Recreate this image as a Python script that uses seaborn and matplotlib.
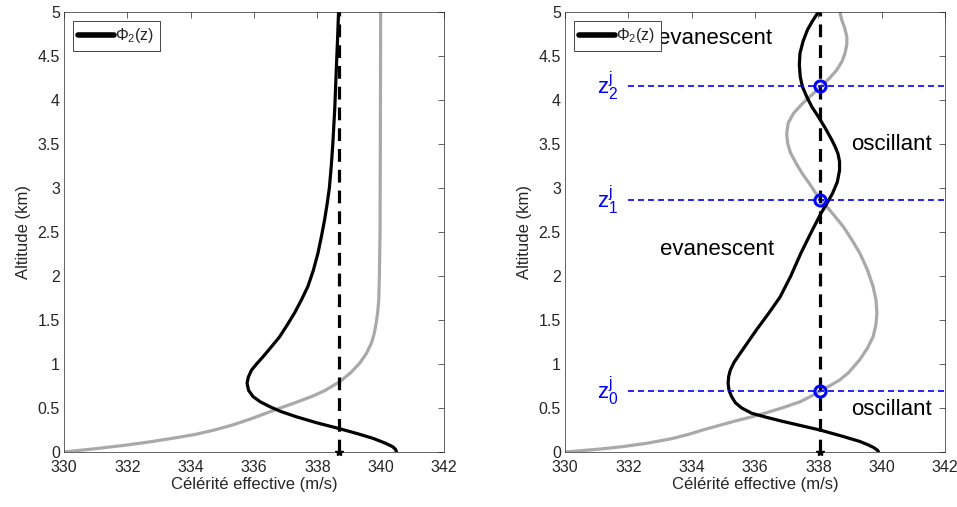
import numpy as np
import pandas as pd
import matplotlib
matplotlib.use("Agg")
import matplotlib.pyplot as plt
import seaborn as sns

# ---------------- data ----------------
# Left panel: effective sound speed profile (grey) and mode Phi_2 (black)
left_c_z = [0, 0.04, 0.08, 0.12, 0.16, 0.20, 0.25, 0.31, 0.37, 0.43, 0.49, 0.56, 0.63, 0.70, 0.80,
            0.90, 1.01, 1.12, 1.24, 1.35, 1.47, 1.60, 1.73, 2.0, 2.5, 3.5, 5.0]
left_c_v = [330.0, 331.05, 332.0, 332.8, 333.5, 334.15, 334.75, 335.35, 335.85, 336.3, 336.75,
            337.3, 337.82, 338.25, 338.71, 339.05, 339.34, 339.55, 339.71, 339.8, 339.86, 339.91,
            339.94, 339.96, 339.98, 339.99, 340.0]
left_phi_z = [0, 0.03, 0.06, 0.10, 0.155, 0.21, 0.27, 0.33, 0.40, 0.46, 0.515, 0.57, 0.63, 0.70,
              0.78, 0.85, 0.93, 1.0, 1.08, 1.2, 1.31, 1.45, 1.58, 1.73, 1.88, 2.06, 2.26, 2.45,
              2.64, 2.82, 3.0, 3.25, 3.51, 3.9, 4.36, 4.7, 5.0]
left_phi_v = [340.5, 340.47, 340.38, 340.15, 339.76, 339.25, 338.65, 338.0, 337.34, 336.85, 336.50,
              336.2, 335.97, 335.83, 335.78, 335.82, 335.92, 336.08, 336.28, 336.56, 336.81, 337.06,
              337.28, 337.5, 337.70, 337.87, 338.02, 338.13, 338.23, 338.31, 338.38, 338.44, 338.49,
              338.55, 338.60, 338.64, 338.67]
left_phase = 338.67

# Right panel
right_c_z = [0, 0.03, 0.06, 0.10, 0.15, 0.20, 0.25, 0.30, 0.35, 0.40, 0.44, 0.50, 0.57, 0.63, 0.69,
             0.76, 0.82, 0.90, 0.97, 1.05, 1.18, 1.31, 1.45, 1.58, 1.73, 1.88, 2.07, 2.26, 2.41,
             2.56, 2.71, 2.86, 2.95, 3.05, 3.16, 3.28, 3.40, 3.51, 3.62, 3.74, 3.85, 3.96, 4.06,
             4.16, 4.25, 4.34, 4.44, 4.53, 4.63, 4.72, 4.82, 4.91, 5.0]
right_c_v = [330.0, 331.0, 331.8, 332.6, 333.35, 333.9, 334.35, 334.85, 335.35, 335.9, 336.3,
             336.85, 337.42, 337.75, 338.05, 338.4, 338.68, 338.95, 339.12, 339.31, 339.55, 339.73,
             339.82, 339.85, 339.82, 339.73, 339.55, 339.31, 339.06, 338.79, 338.45, 338.1, 337.9,
             337.72, 337.5, 337.3, 337.12, 337.03, 337.0, 337.05, 337.22, 337.5, 337.8, 338.1,
             338.36, 338.58, 338.75, 338.84, 338.9, 338.9, 338.83, 338.74, 338.68]
right_phi_z = [0, 0.02, 0.05, 0.08, 0.12, 0.18, 0.25, 0.30, 0.35, 0.40, 0.44, 0.50, 0.56, 0.63,
               0.70, 0.78, 0.86, 0.93, 1.02, 1.12, 1.25, 1.39, 1.57, 1.76, 2.0, 2.26, 2.5, 2.71,
               2.83, 2.94, 3.07, 3.2, 3.3, 3.39, 3.47, 3.55, 3.68, 3.81, 3.92, 4.04, 4.15, 4.26,
               4.4, 4.53, 4.67, 4.8, 4.9, 5.0]
right_phi_v = [339.9, 339.87, 339.75, 339.58, 339.31, 338.75, 338.05, 337.45, 336.85, 336.3, 335.9,
               335.58, 335.38, 335.26, 335.18, 335.15, 335.17, 335.22, 335.34, 335.53, 335.78,
               336.05, 336.42, 336.79, 337.13, 337.45, 337.78, 338.08, 338.28, 338.45, 338.6,
               338.67, 338.67, 338.62, 338.53, 338.42, 338.22, 338.0, 337.8, 337.63, 337.5, 337.43,
               337.4, 337.42, 337.52, 337.66, 337.82, 338.0]
right_phase = 338.05
turning_z = [0.69, 2.86, 4.16]
turning_labels = [r'$\mathregular{z}^{\mathregular{j}}_{\mathregular{0}}$',
                  r'$\mathregular{z}^{\mathregular{j}}_{\mathregular{1}}$',
                  r'$\mathregular{z}^{\mathregular{j}}_{\mathregular{2}}$']
region_labels = ['evanescent', 'oscillant', 'evanescent', 'oscillant']
region_v = [332.94, 339.03, 333.0, 339.03]
region_z = [4.70, 3.50, 2.30, 0.48]

xticks = [330, 332, 334, 336, 338, 340, 342]
yticks = [0, 0.5, 1, 1.5, 2, 2.5, 3, 3.5, 4, 4.5, 5]
ytick_labels = ['0', '0.5', '1', '1.5', '2', '2.5', '3', '3.5', '4', '4.5', '5']

# ---------------- style ----------------
sns.set_theme(style='white')
plt.rcParams['font.family'] = ['Liberation Sans', 'DejaVu Sans']
plt.rcParams['mathtext.fontset'] = 'custom'
plt.rcParams['mathtext.rm'] = 'Liberation Sans'
plt.rcParams['mathtext.it'] = 'Liberation Sans'

fig = plt.figure(figsize=(9.57, 5.07), dpi=100)
axL = fig.add_axes([64 / 957, 1 - 452 / 507, 380 / 957, 440 / 507])
axR = fig.add_axes([565 / 957, 1 - 452 / 507, 380 / 957, 440 / 507])

GRAY = '#a9a9a9'
AXC = '#262626'


def profile(ax, cz, cv, pz, pv, phase):
    dfc = pd.DataFrame({'v': cv, 'z': cz})
    dfp = pd.DataFrame({'v': pv, 'z': pz})
    sns.lineplot(data=dfc, x='v', y='z', sort=False, estimator=None, color=GRAY, lw=2.3, ax=ax)
    sns.lineplot(data=dfp, x='v', y='z', sort=False, estimator=None, color='black', lw=2.3, ax=ax,
                 label=r'$\Phi_2$(z)')
    ax.plot([phase, phase], [0, 5], color='black', lw=2.3, ls=(0, (4.0, 2.5)), zorder=4)
    ax.plot([phase], [0], marker='*', color='black', ms=6, zorder=5, clip_on=False)


def style(ax):
    ax.set_xlim(330, 342)
    ax.set_ylim(0, 5)
    ax.set_xticks(xticks)
    ax.set_yticks(yticks)
    ax.set_yticklabels(ytick_labels)
    ax.tick_params(direction='in', top=True, right=True, length=4, width=0.5, color=AXC,
                   labelsize=11.5, labelcolor=AXC, pad=3)
    ax.tick_params(axis='x', pad=6)
    for s in ax.spines.values():
        s.set_color(AXC)
        s.set_linewidth(0.5)
    ax.set_xlabel('Célérité effective (m/s)', fontsize=12, color=AXC, labelpad=1)
    ax.set_ylabel('Altitude (km)', fontsize=12, color=AXC, labelpad=5)
    leg = ax.legend(loc='upper left', fontsize=11.5, frameon=True, fancybox=False, framealpha=1,
                    handlelength=2.2, handletextpad=0.1, borderpad=0.35, borderaxespad=0.55)
    leg.get_frame().set_edgecolor(AXC)
    leg.get_frame().set_linewidth(0.6)
    for h in leg.get_lines():
        h.set_linewidth(4)
    leg.set_zorder(10)


profile(axL, left_c_z, left_c_v, left_phi_z, left_phi_v, left_phase)
profile(axR, right_c_z, right_c_v, right_phi_z, right_phi_v, right_phase)

for zt, lab in zip(turning_z, turning_labels):
    axR.plot([332.0, 342], [zt, zt], color='#0000ff', lw=1.2, ls=(0, (3.6, 2.4)), zorder=3)
    axR.plot([right_phase], [zt], marker='o', ms=8, mfc='none', mec='#0000ff', mew=2.2, zorder=6)
    axR.text(331.0, zt, lab, color='#0000ff', fontsize=16, ha='left', va='center')

for lab, v, z in zip(region_labels, region_v, region_z):
    axR.text(v, z, lab, fontsize=16, ha='left', va='center', color='black')

style(axL)
style(axR)

fig.savefig('out.png', dpi=100)
